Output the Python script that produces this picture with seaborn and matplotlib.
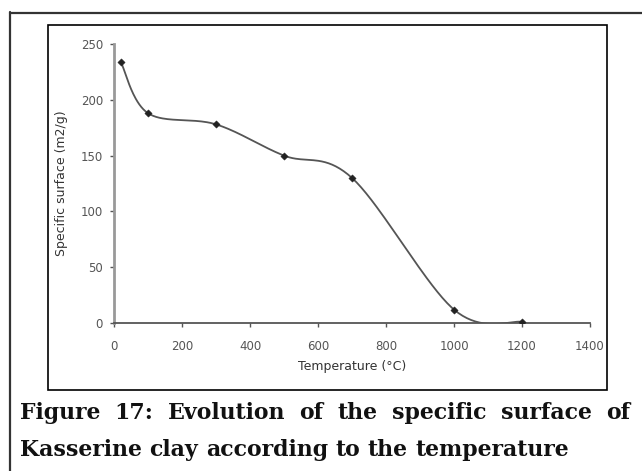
import numpy as np
import pandas as pd
import matplotlib
matplotlib.use('Agg')
import matplotlib.pyplot as plt
from matplotlib.patches import Rectangle
from matplotlib.lines import Line2D
import seaborn as sns

# values
temperature = [20, 100, 300, 500, 700, 1000, 1200]
surface = [234, 188, 178, 150, 130, 12, 1]
x_ticks = [0, 200, 400, 600, 800, 1000, 1200, 1400]
y_ticks = [0, 50, 100, 150, 200, 250]
caption_1 = 'Figure 17: Evolution of the specific surface of'
caption_2 = 'Kasserine clay according to the temperature'

sns.set_style('white')
plt.rcParams['font.family'] = ['DejaVu Sans']


def smooth_curve(xs, ys, n=40):
    # Excel style smoothed line (Catmull-Rom through the points)
    xs = np.asarray(xs, float) / 1400.0
    ys = np.asarray(ys, float) / 250.0 * 0.58
    p = np.column_stack([xs, ys])
    p = np.vstack([p[0], p, p[-1]])
    out = []
    t = np.linspace(0, 1, n)[:, None]
    for i in range(1, len(p) - 2):
        p0, p1, p2, p3 = p[i - 1], p[i], p[i + 1], p[i + 2]
        seg = 0.5 * ((2 * p1) + (-p0 + p2) * t + (2 * p0 - 5 * p1 + 4 * p2 - p3) * t ** 2
                     + (-p0 + 3 * p1 - 3 * p2 + p3) * t ** 3)
        out.append(seg)
    out = np.vstack(out)
    return out[:, 0] * 1400.0, out[:, 1] / 0.58 * 250.0


W, H = 642, 471
fig = plt.figure(figsize=(W / 100, H / 100), dpi=100)
renderer = fig.canvas.get_renderer()

# outer and inner frames
fig.add_artist(Line2D([10.5 / W, 10.5 / W], [0, 1 - 12 / H], color='#333333', lw=1.6))
fig.add_artist(Line2D([10 / W, 1], [1 - 12.5 / H, 1 - 12.5 / H], color='#333333', lw=1.6))
fig.add_artist(Rectangle((48 / W, 1 - 390 / H), (607 - 48) / W, (390 - 25) / H,
                         fill=False, ec='black', lw=1.2, transform=fig.transFigure))

ax = fig.add_axes([114 / W, 1 - 323 / H, (590 - 114) / W, (323 - 44) / H])
cx, cy = smooth_curve(temperature, surface)
curve = pd.DataFrame({'T': cx, 'S': cy})
pts = pd.DataFrame({'T': temperature, 'S': surface})
sns.lineplot(data=curve, x='T', y='S', sort=False, color='#555555', lw=1.3, ax=ax)
sns.scatterplot(data=pts, x='T', y='S', marker='D', s=14, color='#222222',
                edgecolor='#222222', ax=ax, zorder=3)

ax.set_xlim(0, 1400)
ax.set_ylim(0, 250)
ax.set_xticks(x_ticks)
ax.set_yticks(y_ticks)
ax.tick_params(axis='both', bottom=True, left=True, labelsize=8.5, colors='#555555',
               length=3, width=1, direction='out')
ax.tick_params(axis='x', pad=9)
ax.tick_params(axis='y', pad=5)
sns.despine(ax=ax)
ax.spines['left'].set_color('#999999')
ax.spines['left'].set_linewidth(2)
ax.spines['bottom'].set_color('#555555')
ax.spines['bottom'].set_linewidth(1.3)
ax.set_xlabel('Temperature (°C)', fontsize=9, color='#333333', labelpad=5)
ax.set_ylabel('Specific surface (m2/g)', fontsize=9, color='#333333', labelpad=9)
ax.set_facecolor('white')


def caption_line(text, y_px, x0, x1=None, size=15):
    # write one caption line word by word, justified between x0 and x1
    words = text.split(' ')
    items = [fig.text(0, 1 - y_px / H, w, fontsize=size, fontweight='bold',
                      family='DejaVu Serif', color='#111111', va='center', ha='left')
             for w in words]
    widths = [t.get_window_extent(renderer).width for t in items]
    space = fig.text(0, 0, 'a a', fontsize=size, fontweight='bold', family='DejaVu Serif')
    sp = space.get_window_extent(renderer).width
    space.remove()
    a = fig.text(0, 0, 'aa', fontsize=size, fontweight='bold', family='DejaVu Serif')
    sp -= a.get_window_extent(renderer).width
    a.remove()
    if x1 is not None:
        sp = (x1 - x0 - sum(widths)) / (len(words) - 1)
    x = x0
    for t, w in zip(items, widths):
        t.set_x(x / W)
        x += w + sp


caption_line(caption_1, 413, 20, 630, size=15.8)
caption_line(caption_2, 450, 20, None, size=15.8)

fig.savefig('out.png', dpi=100, facecolor='white')
